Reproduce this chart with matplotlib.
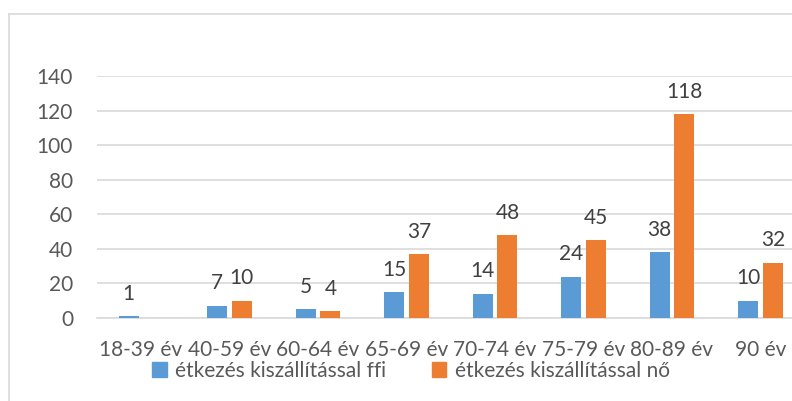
import numpy as np
import matplotlib.pyplot as plt
from matplotlib.lines import Line2D
from matplotlib.patches import Patch

categories = ["18-39 év", "40-59 év", "60-64 év", "65-69 év",
              "70-74 év", "75-79 év", "80-89 év", "90 év"]
ffi = [1, 7, 5, 15, 14, 24, 38, 10]
no = [np.nan, 10, 4, 37, 48, 45, 118, 32]
series_names = ["étkezés kiszállítással ffi", "étkezés kiszállítással nő"]

blue = "#5B9BD5"
orange = "#ED7D31"
grid_col = "#D9D9D9"
text_col = "#595959"

plt.rcParams['font.family'] = ['Lato', 'DejaVu Sans']
fs = 15

W, H = 792, 401
fig = plt.figure(figsize=(W / 100, H / 100), dpi=100)

# plot area in pixel terms, the right side runs off the image like the source
left_px, right_px = 96.75, 804.75
top_px, bottom_px = 76, 318
ax = fig.add_axes([left_px / W, 1 - bottom_px / H,
                   (right_px - left_px) / W, (bottom_px - top_px) / H])

x = np.arange(len(categories))
bw = 0.225
off = 0.14
b1 = ax.bar(x - off, ffi, bw, color=blue, label=series_names[0], zorder=3)
b2 = ax.bar(x + off, no, bw, color=orange, label=series_names[1], zorder=3)

for bars, vals in ((b1, ffi), (b2, no)):
    for rect, v in zip(bars, vals):
        if np.isnan(v):
            continue
        ax.annotate(f"{v:g}", (rect.get_x() + rect.get_width() / 2, v),
                    xytext=(0, 9), textcoords="offset points",
                    ha="center", va="bottom", fontsize=fs, color="#404040")

ax.set_xlim(-0.5, len(categories) - 0.5)
ax.set_ylim(0, 140)
ax.set_yticks(range(0, 141, 20))
ax.set_xticks(x)
ax.set_xticklabels(categories)
ax.tick_params(length=0, labelsize=fs, colors=text_col)
ax.tick_params(axis="y", pad=17)
ax.tick_params(axis="x", pad=16)
ax.yaxis.grid(True, color=grid_col, linewidth=1.2, zorder=0)
for s in ("top", "right", "left"):
    ax.spines[s].set_visible(False)
ax.spines["bottom"].set_color(grid_col)
ax.spines["bottom"].set_linewidth(1.2)

handles = [Patch(color=blue), Patch(color=orange)]
fig.legend(handles, series_names, loc="center", bbox_to_anchor=(411 / W, 1 - 371 / H),
           ncol=2, frameon=False, fontsize=fs, labelcolor=text_col,
           handlelength=0.7, handleheight=0.7, handletextpad=0.4, columnspacing=2.2)

# chart border, only left and top visible inside the image
fig.add_artist(Line2D([8.5 / W, 8.5 / W], [0, 1 - 13.5 / H], color=grid_col, linewidth=1.2))
fig.add_artist(Line2D([8.5 / W, 1], [1 - 13.5 / H, 1 - 13.5 / H], color=grid_col, linewidth=1.2))

fig.savefig("out.png", dpi=100)
